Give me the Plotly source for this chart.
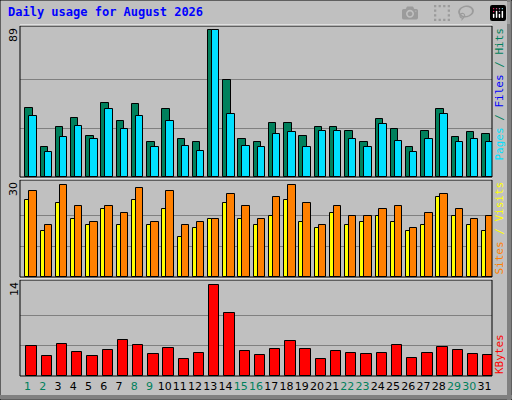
import plotly.graph_objects as go

days = list(range(1, 32))
weekend = [1, 2, 8, 9, 15, 16, 22, 23, 29, 30]
hits = [42, 18, 30, 36, 25, 45, 34, 44, 21, 41, 23, 21, 89, 59, 23, 21, 33, 33, 25, 30, 30, 28, 21, 35, 29, 18, 28, 41, 24, 27, 26]
files = [37, 15, 24, 31, 23, 41, 29, 37, 18, 34, 19, 16, 89, 38, 19, 18, 26, 27, 18, 28, 28, 23, 18, 32, 22, 15, 23, 38, 21, 23, 21]
sites = [25, 15, 24, 19, 17, 22, 17, 25, 17, 22, 13, 16, 19, 24, 19, 17, 20, 25, 18, 16, 21, 17, 18, 20, 18, 15, 17, 26, 20, 17, 15]
visits = [28, 17, 30, 23, 18, 23, 21, 29, 18, 28, 17, 18, 19, 27, 23, 19, 26, 30, 24, 17, 23, 20, 20, 22, 23, 16, 21, 27, 22, 19, 20]
kbytes = [4.65, 3.12, 4.96, 3.73, 3.12, 4.04, 5.57, 4.8, 3.42, 4.34, 2.66, 3.58, 14.0, 9.71, 3.88, 3.27, 4.19, 5.42, 4.19, 2.66, 3.88, 3.58, 3.42, 3.58, 4.8, 2.81, 3.58, 4.5, 4.04, 3.42, 3.27]
ymax = [89, 30, 14]

line = dict(color="black", width=1)
fig = go.Figure()
fig.add_bar(x=days, y=hits, offset=-0.15, width=0.49, marker=dict(color="#00805c", line=line), xaxis="x", yaxis="y")
fig.add_bar(x=days, y=files, offset=0.11, width=0.49, marker=dict(color="#00e0ff", line=line), xaxis="x", yaxis="y")
fig.add_bar(x=days, y=sites, offset=-0.15, width=0.28, marker=dict(color="#ffff00", line=line), xaxis="x2", yaxis="y2")
fig.add_bar(x=days, y=visits, offset=0.11, width=0.49, marker=dict(color="#ff8000", line=line), xaxis="x2", yaxis="y2")
fig.add_bar(x=days, y=kbytes, offset=-0.08, width=0.68, marker=dict(color="#ff0000", line=line), xaxis="x3", yaxis="y3")

ticktext = [f"<span style='color:#00805c'>{d}</span>" if d in weekend else str(d) for d in days]

def xa(show, anchor):
    d = dict(domain=[20/512, 492/512], range=[0.5, 31.5], showgrid=False, zeroline=False, fixedrange=True, anchor=anchor)
    if show:
        d.update(tickvals=days, ticktext=ticktext, ticks="", tickangle=0, ticklabelstandoff=2,
                 tickfont=dict(family="DejaVu Sans", size=11, color="black"))
    else:
        d.update(showticklabels=False)
    return d

def ya(dom, top, m, anchor):
    return dict(domain=dom, range=[0, top], tickvals=[m/3, 2*m/3], showticklabels=False, anchor=anchor,
                showgrid=True, gridcolor="#808080", gridwidth=1, zeroline=False, fixedrange=True)

doms = [[1-177/400, 1-26/400], [1-277/400, 1-180/400], [1-376/400, 1-280/400]]
fig.update_layout(
    width=512, height=400, margin=dict(l=0, r=0, t=0, b=0),
    paper_bgcolor="#c0c0c0", plot_bgcolor="#c0c0c0", showlegend=False, barmode="overlay", bargap=0,
    xaxis=xa(False, "y"), xaxis2=xa(False, "y2"), xaxis3=xa(True, "y3"),
    yaxis=ya(doms[0], 91.5, 89, "x"), yaxis2=ya(doms[1], 31.6, 30, "x2"),
    yaxis3=ya(doms[2], 14.7, 14, "x3"),
)

shapes = []
for d in doms:
    shapes.append(dict(type="rect", xref="paper", yref="paper", x0=20/512, x1=492/512, y0=d[0], y1=d[1],
                       line=dict(color="black", width=1), layer="above"))
    shapes.append(dict(type="line", xref="paper", yref="paper", x0=20/512, x1=492/512, y0=d[1]+1/400, y1=d[1]+1/400,
                       line=dict(color="white", width=1)))
shapes += [
    dict(type="rect", xref="paper", yref="paper", x0=0, x1=1, y0=0, y1=1, line=dict(color="black", width=1)),
    dict(type="line", xref="paper", yref="paper", x0=1-3/512, x1=1-3/512, y0=0, y1=1, line=dict(color="#808080", width=4)),
    dict(type="line", xref="paper", yref="paper", x0=0, x1=1, y0=3/400, y1=3/400, line=dict(color="#808080", width=4)),
]
fig.update_layout(shapes=shapes)

mono = "DejaVu Sans Mono"
ann = [dict(text="<b>Daily usage for August 2026</b>", x=6/512, y=1-12/400, xanchor="left", yanchor="middle",
            font=dict(family=mono, size=12, color="#0000ff"))]
for d, m in zip(doms, ymax):
    ann.append(dict(text=str(m), x=14/512, y=d[1], xanchor="center", yanchor="top", textangle=-90,
                    font=dict(family="DejaVu Sans", size=11, color="black")))
ann.append(dict(text="<span style='color:#00e0ff'>Pages</span> / <span style='color:#0000ff'>Files</span> / <span style='color:#00805c'>Hits</span>",
                x=499/512, y=doms[0][1], xanchor="center", yanchor="top", textangle=-90, font=dict(family=mono, size=11, color="#00805c")))
ann.append(dict(text="<span style='color:#ff8000'>Sites</span> / <span style='color:#ffff00'>Visits</span>",
                x=499/512, y=doms[1][1], xanchor="center", yanchor="top", textangle=-90, font=dict(family=mono, size=11, color="#ffff00")))
ann.append(dict(text="KBytes", x=499/512, y=doms[2][0], xanchor="center", yanchor="bottom", textangle=-90,
                font=dict(family=mono, size=11, color="#ff0000")))
for a in ann:
    a.update(xref="paper", yref="paper", showarrow=False)
fig.update_layout(annotations=ann)
html = fig.to_html(include_plotlyjs=True, full_html=True)
html = html.replace("<head>", "<head><style>html,body{margin:0;padding:0;overflow:hidden;}</style>", 1)
with open("out.html", "w", encoding="utf-8") as f:
    f.write(html)
if False:
    fig.write_html("out.html")
